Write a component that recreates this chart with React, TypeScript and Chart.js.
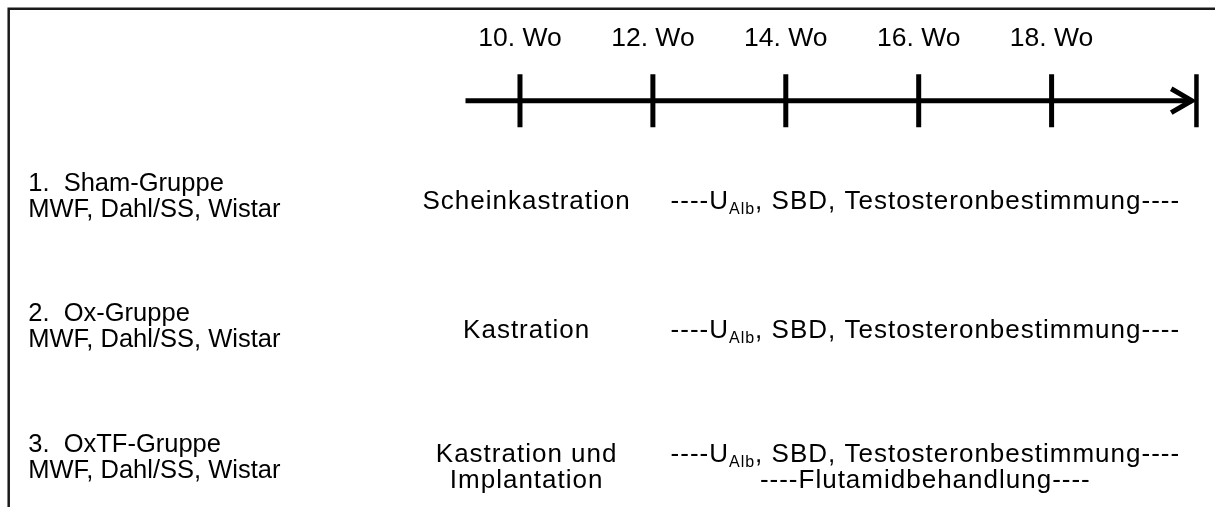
import { useEffect, useRef } from 'react';
import { Chart, registerables } from 'chart.js';

Chart.register(...registerables);

// ---- data ----
const weeks = [10, 12, 14, 16, 18];
const tickLabels = ['10. Wo', '12. Wo', '14. Wo', '16. Wo', '18. Wo'];
const axisStartWeek = 9.18;
const arrowTipWeek = 20.11;
const arrowBackWeek = 19.80;
const axisStopWeek = 20.18;

const groupNames = ['1.  Sham-Gruppe', '2.  Ox-Gruppe', '3.  OxTF-Gruppe'];
const groupStrains = ['MWF, Dahl/SS, Wistar', 'MWF, Dahl/SS, Wistar', 'MWF, Dahl/SS, Wistar'];
const interventions = [['Scheinkastration'], ['Kastration'], ['Kastration und', 'Implantation']];
const measurements = [
  ['----U_{Alb}, SBD, Testosteronbestimmung----'],
  ['----U_{Alb}, SBD, Testosteronbestimmung----'],
  ['----U_{Alb}, SBD, Testosteronbestimmung----', '----Flutamidbehandlung----'],
];

// row positions on the (hidden) vertical scale
const axisRow = 0.3;
const groupRows = [1.01, 1.99, 2.972];
const treatmentRows = [1.045, 2.015, 3.05];

// layout constants (in scale units)
const X_MIN = 2.175;
const X_MAX = 20.459;
const Y_MIN = -0.02;
const Y_MAX = 3.36;
const labelColX = 2.60;
const interventionColX = 10.1;
const measurementColX = 16.1;

const FONT = '"Liberation Sans", Arial, sans-serif';
const LABEL_SIZE = 25.5;
const BODY_SIZE = 26;
const SUB_SIZE = 16;
const LINE_GAP = 26;

function splitRich(text: string) {
  const parts: { t: string; sub: boolean }[] = [];
  const re = /_\{([^}]*)\}/g;
  let last = 0;
  let m: RegExpExecArray | null;
  while ((m = re.exec(text))) {
    if (m.index > last) parts.push({ t: text.slice(last, m.index), sub: false });
    parts.push({ t: m[1], sub: true });
    last = m.index + m[0].length;
  }
  if (last < text.length) parts.push({ t: text.slice(last), sub: false });
  return parts;
}

function drawRich(
  ctx: CanvasRenderingContext2D,
  text: string,
  x: number,
  baseline: number,
  align: 'left' | 'center',
  size: number,
  spacing: number
) {
  const parts = splitRich(text);
  (ctx as any).letterSpacing = spacing + 'px';
  const widths = parts.map((p) => {
    ctx.font = `${p.sub ? SUB_SIZE : size}px ${FONT}`;
    return ctx.measureText(p.t).width;
  });
  const total = widths.reduce((a, b) => a + b, 0);
  let cx = align === 'center' ? x - total / 2 : x;
  ctx.textAlign = 'left';
  ctx.textBaseline = 'alphabetic';
  parts.forEach((p, i) => {
    ctx.font = `${p.sub ? SUB_SIZE : size}px ${FONT}`;
    ctx.fillText(p.t, cx, p.sub ? baseline + 5 : baseline);
    cx += widths[i];
  });
  (ctx as any).letterSpacing = '0px';
}

const textPlugin = {
  id: 'diagramText',
  beforeDraw(chart: any) {
    const ctx = chart.ctx as CanvasRenderingContext2D;
    ctx.save();
    ctx.strokeStyle = '#1a1a1a';
    ctx.lineWidth = 2.5;
    ctx.beginPath();
    ctx.moveTo(8.7, chart.height);
    ctx.lineTo(8.7, 8.7);
    ctx.lineTo(chart.width, 8.7);
    ctx.stroke();
    ctx.restore();
  },
  afterDatasetsDraw(chart: any) {
    const ctx = chart.ctx as CanvasRenderingContext2D;
    const xs = chart.scales.x;
    const ys = chart.scales.y;
    ctx.save();
    ctx.fillStyle = '#000';
    groupNames.forEach((name, i) => {
      const cy = ys.getPixelForValue(groupRows[i]);
      const lx = xs.getPixelForValue(labelColX);
      const ch = LABEL_SIZE * 0.358;
      drawRich(ctx, name, lx, cy - LINE_GAP / 2 + ch, 'left', LABEL_SIZE, 0);
      drawRich(ctx, groupStrains[i], lx, cy + LINE_GAP / 2 + ch, 'left', LABEL_SIZE, 0);
    });
    const drawBlock = (lines: string[], colX: number, row: number, spacing: number) => {
      const cy = ys.getPixelForValue(row);
      const cx = xs.getPixelForValue(colX);
      const n = lines.length;
      lines.forEach((ln, k) => {
        const ly = cy + (k - (n - 1) / 2) * LINE_GAP + BODY_SIZE * 0.358;
        drawRich(ctx, ln, cx, ly, 'center', BODY_SIZE, spacing);
      });
    };
    interventions.forEach((lines, i) => drawBlock(lines, interventionColX, treatmentRows[i], 1.0));
    measurements.forEach((lines, i) => drawBlock(lines, measurementColX, treatmentRows[i], 1.0));
    ctx.restore();
  },
};

export default function App() {
  const ref = useRef<HTMLCanvasElement | null>(null);
  useEffect(() => {
    document.body.style.margin = '0';
    document.body.style.overflow = 'hidden';
    const canvas = ref.current;
    if (!canvas) return;
    const black = '#000000';
    const chart = new Chart(canvas, {
      type: 'scatter',
      data: {
        datasets: [
          {
            type: 'line',
            data: [
              { x: axisStartWeek, y: axisRow },
              { x: arrowTipWeek, y: axisRow },
            ],
            borderColor: black,
            borderWidth: 5,
            pointRadius: 0,
            borderCapStyle: 'butt',
          } as any,
          {
            type: 'line',
            data: [
              { x: arrowBackWeek, y: axisRow - 0.09 },
              { x: arrowTipWeek, y: axisRow },
              { x: arrowBackWeek, y: axisRow + 0.09 },
            ],
            borderColor: black,
            borderWidth: 5,
            pointRadius: 0,
            borderCapStyle: 'butt',
            borderJoinStyle: 'miter',
          } as any,
          {
            type: 'scatter',
            data: weeks.map((w) => ({ x: w, y: axisRow })),
            pointStyle: 'line',
            rotation: 90,
            radius: 26.5,
            borderWidth: 5,
            borderColor: black,
            backgroundColor: black,
          } as any,
          {
            type: 'scatter',
            data: [{ x: axisStopWeek, y: axisRow }],
            pointStyle: 'line',
            rotation: 90,
            radius: 26.5,
            borderWidth: 4.5,
            borderColor: black,
            backgroundColor: black,
          } as any,
        ],
      },
      options: {
        responsive: false,
        animation: false,
        events: [],
        layout: { autoPadding: false, padding: { top: 18.4, left: 0, right: 0, bottom: 0 } },
        plugins: { legend: { display: false }, tooltip: { enabled: false } },
        scales: {
          x: {
            type: 'linear',
            position: 'top',
            min: X_MIN,
            max: X_MAX,
            grid: { display: false, drawTicks: false },
            border: { display: false },
            afterBuildTicks: (axis: any) => {
              axis.ticks = weeks.map((v) => ({ value: v }));
            },
            afterFit: (axis: any) => {
              axis.paddingLeft = 0;
              axis.paddingRight = 0;
            },
            ticks: {
              autoSkip: false,
              maxRotation: 0,
              minRotation: 0,
              padding: 4,
              color: black,
              font: { family: FONT, size: 26.5 },
              callback: (v: any) => {
                const i = weeks.indexOf(Number(v));
                return i >= 0 ? tickLabels[i] : '';
              },
            },
          },
          y: {
            type: 'linear',
            display: false,
            reverse: true,
            min: Y_MIN,
            max: Y_MAX,
          },
        },
      } as any,
      plugins: [textPlugin],
    });
    return () => chart.destroy();
  }, []);
  return (
    <div style={{ width: 1215, height: 507, overflow: 'hidden', background: '#fff' }}>
      <canvas ref={ref} width={1215} height={507} style={{ display: 'block' }} />
    </div>
  );
}
